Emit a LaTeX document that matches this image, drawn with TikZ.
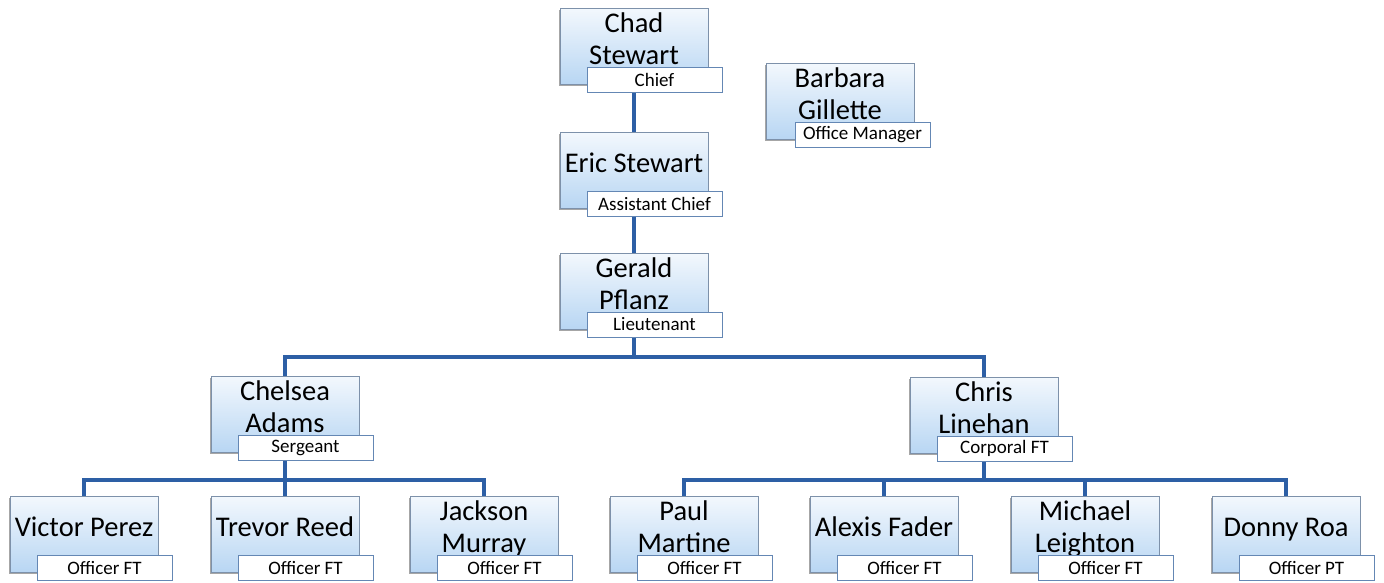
\documentclass[tikz,border=0pt]{standalone}
\usepackage{fontspec}
\setmainfont{Carlito}
\usetikzlibrary{backgrounds,shadows}
\definecolor{linkblue}{RGB}{45,95,165}
\definecolor{boxtop}{RGB}{243,248,253}
\definecolor{boxbottom}{RGB}{184,214,243}
\definecolor{boxedge}{RGB}{125,145,170}
\definecolor{roleedge}{RGB}{100,135,180}

\begin{document}
\begin{tikzpicture}[x=1pt, y=-1pt,
  person/.style={rectangle, draw=boxedge, line width=1pt, top color=boxtop, bottom color=boxbottom, minimum width=148pt, minimum height=76pt, inner sep=1pt, align=center, text depth=14pt, font=\fontsize{28.5}{32}\selectfont, general shadow={fill=black!35, shadow xshift=-1.5pt, shadow yshift=-1.5pt}},
  role/.style={rectangle, draw=roleedge, line width=1pt, fill=white, minimum width=135pt, minimum height=25pt, inner sep=1pt, font=\fontsize{19}{21}\selectfont},
  link/.style={draw=linkblue, line width=3.5pt}]
  \useasboundingbox (0,0) rectangle (1384,582);

  % top of the chart
  \node[person] (chad) at (634,46) {Chad\\Stewart};
  \node[role] (chadrole) at ([xshift=95pt,yshift=5pt]chad.south west) {Chief};
  \node[person] (barbara) at (840,101) {Barbara\\Gillette};
  \node[role] (barbararole) at ([xshift=97pt,yshift=5pt]barbara.south west) {Office Manager};
  \node[person] (eric) at (634,170) {Eric Stewart};
  \node[role] (ericrole) at ([xshift=95pt,yshift=5pt]eric.south west) {Assistant Chief};
  \node[person] (gerald) at (634,291) {Gerald\\Pflanz};
  \node[role] (geraldrole) at ([xshift=95pt,yshift=5pt]gerald.south west) {Lieutenant};

  % middle row
  \node[person] (chelsea) at (285,414) {Chelsea\\Adams};
  \node[role] (chelsearole) at ([xshift=95pt,yshift=5pt]chelsea.south west) {Sergeant};
  \node[person] (chris) at (984,415) {Chris\\Linehan};
  \node[role] (chrisrole) at ([xshift=95pt,yshift=5pt]chris.south west) {Corporal FT};

  % officers
  \node[person] (victor) at (84,534) {Victor Perez};
  \node[role] (victorrole) at ([xshift=95pt,yshift=5pt]victor.south west) {Officer FT};
  \node[person] (trevor) at (285,534) {Trevor Reed};
  \node[role] (trevorrole) at ([xshift=95pt,yshift=5pt]trevor.south west) {Officer FT};
  \node[person] (jackson) at (484,534) {Jackson\\Murray};
  \node[role] (jacksonrole) at ([xshift=95pt,yshift=5pt]jackson.south west) {Officer FT};
  \node[person] (paul) at (684,534) {Paul\\Martine};
  \node[role] (paulrole) at ([xshift=95pt,yshift=5pt]paul.south west) {Officer FT};
  \node[person] (alexis) at (884,534) {Alexis Fader};
  \node[role] (alexisrole) at ([xshift=95pt,yshift=5pt]alexis.south west) {Officer FT};
  \node[person] (michael) at (1085,534) {Michael\\Leighton};
  \node[role] (michaelrole) at ([xshift=95pt,yshift=5pt]michael.south west) {Officer FT};
  \node[person] (donny) at (1286,534) {Donny Roa};
  \node[role] (donnyrole) at ([xshift=95pt,yshift=5pt]donny.south west) {Officer PT};

  \coordinate (split) at (634,357);
  \coordinate (splitl) at (285,480);
  \coordinate (splitr) at (984,480);

  \begin{scope}[on background layer]
    \draw[link] (chad) -- (eric);
    \draw[link] (eric) -- (gerald);
    \draw[link] (gerald) -- (split) -| (chelsea);
    \draw[link] (split) -| (chris);
    \draw[link] (chelsea) -- (splitl) -| (victor);
    \draw[link] (splitl) -- (trevor);
    \draw[link] (splitl) -| (jackson);
    \draw[link] (chris) -- (splitr) -| (paul);
    \draw[link] (splitr) -| (alexis);
    \draw[link] (splitr) -| (michael);
    \draw[link] (splitr) -| (donny);
  \end{scope}
\end{tikzpicture}
\end{document}
